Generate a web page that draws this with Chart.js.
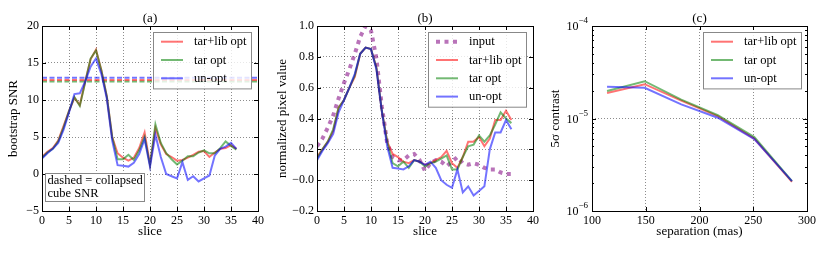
<!DOCTYPE html>
<html>
<head>
<meta charset="utf-8">
<script src="https://cdn.jsdelivr.net/npm/chart.js@4.4.0/dist/chart.umd.min.js"></script>
<style>
  html, body { margin: 0; padding: 0; background: #fff; }
  #wrap { position: relative; width: 830px; height: 254px; overflow: hidden; }
  .panel { position: absolute; top: 0; height: 254px; }
</style>
</head>
<body>
<div id="wrap">
  <div class="panel" style="left:0;width:275px"><canvas id="snrCanvas" width="275" height="254"></canvas></div>
  <div class="panel" style="left:275px;width:275px"><canvas id="pixelCanvas" width="275" height="254"></canvas></div>
  <div class="panel" style="left:550px;width:280px"><canvas id="contrastCanvas" width="280" height="254"></canvas></div>
</div>
<script>
/* ---- data ---- */
const slices = [0,1,2,3,4,5,6,7,8,9,10,11,12,13,14,15,16,17,18,19,20,21,22,23,24,25,26,27,28,29,30,31,32,33,34,35,36];

// (a) bootstrap SNR
const snrTarLib = [2.3,3.0,3.5,4.5,6.5,8.5,10.3,9.3,12.5,15.5,16.8,14.0,10.5,5.0,2.8,2.2,1.8,2.2,3.5,5.6,1.3,6.2,4.0,2.7,2.3,1.8,1.9,2.2,2.6,3.0,3.1,2.3,2.9,3.4,3.5,3.9,3.4];
const snrTar    = [2.2,2.9,3.4,4.4,6.3,8.5,10.4,9.2,12.4,15.6,16.7,14.0,10.5,5.0,2.0,2.0,2.6,1.9,3.2,5.0,1.2,6.7,4.2,2.8,2.0,1.3,1.8,2.4,2.4,2.9,3.2,2.8,2.8,3.5,4.4,3.8,3.3];
const snrUnopt  = [2.1,2.8,3.4,4.2,6.0,8.3,10.8,10.9,12.5,14.5,15.6,13.5,10.2,4.5,1.2,1.1,1.0,1.5,2.7,4.7,1.0,5.3,2.3,0.0,-0.3,-0.6,1.6,-0.8,-0.3,-1.0,-0.6,-0.2,2.5,3.4,3.7,4.2,3.4];
const cubeSnr   = [12.7, 12.5, 13.0];   // tar+lib opt, tar opt, un-opt
const cubeSpan  = [0, 40];

// (b) normalized pixel value
const pixInput  = [0.22,0.27,0.34,0.42,0.53,0.63,0.72,0.82,0.93,1.00,0.97,0.79,0.48,0.24,0.15,0.13,0.13,0.16,0.17,0.13,0.06,0.11,0.13,0.12,0.09,0.12,0.15,0.11,0.10,0.11,0.10,0.08,0.07,0.07,0.05,0.04,0.04];
const pixTarLib = [0.15,0.20,0.25,0.32,0.47,0.52,0.60,0.67,0.82,0.86,0.85,0.73,0.45,0.25,0.17,0.15,0.12,0.11,0.13,0.12,0.10,0.11,0.13,0.15,0.19,0.11,0.08,0.15,0.25,0.25,0.28,0.22,0.27,0.39,0.39,0.45,0.39];
const pixTar    = [0.14,0.20,0.25,0.33,0.47,0.52,0.60,0.68,0.82,0.86,0.85,0.73,0.45,0.25,0.11,0.09,0.12,0.08,0.13,0.12,0.09,0.11,0.12,0.14,0.16,0.07,0.07,0.15,0.22,0.23,0.29,0.25,0.29,0.36,0.44,0.40,0.37];
const pixUnopt  = [0.13,0.19,0.24,0.30,0.44,0.52,0.60,0.69,0.82,0.86,0.85,0.72,0.45,0.22,0.08,0.075,0.07,0.09,0.13,0.12,0.10,0.12,0.08,0.00,-0.03,-0.05,0.07,-0.08,-0.04,-0.10,-0.07,-0.04,0.20,0.31,0.31,0.39,0.33];

// (c) 5 sigma contrast
const sepMas      = [114, 149, 183, 217, 251, 286];
const conTarLib   = [1.89e-5, 2.35e-5, 1.56e-5, 1.06e-5, 6.07e-6, 2.06e-6];
const conTar      = [1.98e-5, 2.53e-5, 1.60e-5, 1.085e-5, 6.3e-6, 2.1e-6];
const conUnopt    = [2.2e-5, 2.15e-5, 1.42e-5, 1.02e-5, 6.0e-6, 2.1e-6];

// tick labels
const snrXTicks = [0, 40, 5];
const snrYTicks = [-5, 20, 5];
const pixYTicks = [-0.2, 1.0, 0.2];
const sepXTicks = [100, 300, 50];
const conDecades = [-6, -5, -4];

(function () {
  'use strict';

  const SERIF = '"Liberation Serif", "Times New Roman", serif';
  const RED = 'rgba(255,0,0,0.55)';
  const GREEN = 'rgba(0,128,0,0.55)';
  const BLUE = 'rgba(0,0,255,0.55)';
  const PURPLE = 'rgba(128,0,128,0.55)';
  const GRID = 'rgba(0,0,0,0.45)';

  const pts = (xs, ys) => xs.map((x, i) => ({ x: x, y: ys[i] }));
  const minus = s => String(s).replace('-', '\u2212');
  const isPow10 = v => v > 0 && Math.abs(Math.log10(v) - Math.round(Math.log10(v))) < 1e-6;

  function line(label, data, color, order, extra) {
    return Object.assign({
      label: label, data: data, borderColor: color, backgroundColor: color,
      borderWidth: 2, pointRadius: 0, tension: 0, fill: false, order: order
    }, extra || {});
  }

  function linAxis(t, fmt, isX) {
    return {
      type: 'linear', min: t[0], max: t[1],
      ticks: {
        stepSize: t[2], autoSkip: false, maxRotation: 0, padding: isX ? 3 : 3,
        color: '#000', font: { family: SERIF, size: 12 }, callback: v => minus(fmt(v))
      },
      grid: { color: GRID, lineWidth: 1, drawTicks: false },
      border: { display: false, dash: [1, 2] },
      afterFit: s => { if (isX) s.height = 43; else s.width = 42; }
    };
  }

  // frame, inward ticks, titles, legend and notes
  const deco = {
    id: 'deco',
    afterDraw(chart, args, o) {
      const ctx = chart.ctx, a = chart.chartArea;
      const xs = chart.scales.x, ys = chart.scales.y;
      ctx.save();
      ctx.strokeStyle = '#000';
      ctx.lineWidth = 1;
      ctx.beginPath();
      xs.ticks.forEach(t => {
        const p = Math.round(xs.getPixelForValue(t.value)) + 0.5;
        ctx.moveTo(p, a.bottom); ctx.lineTo(p, a.bottom - 4);
        ctx.moveTo(p, a.top); ctx.lineTo(p, a.top + 4);
      });
      const yTick = (v, len) => {
        const p = Math.round(ys.getPixelForValue(v)) + 0.5;
        ctx.moveTo(a.left, p); ctx.lineTo(a.left + len, p);
        ctx.moveTo(a.right, p); ctx.lineTo(a.right - len, p);
      };
      if (o.log) {
        conDecades.forEach((e, i) => {
          yTick(Math.pow(10, e), 4);
          if (i < conDecades.length - 1) {
            for (let m = 2; m < 10; m++) yTick(m * Math.pow(10, e), 2);
          }
        });
      } else {
        ys.ticks.forEach(t => yTick(t.value, 4));
      }
      ctx.stroke();
      ctx.strokeRect(Math.round(a.left) + 0.5, Math.round(a.top) + 0.5,
        Math.round(a.right - a.left), Math.round(a.bottom - a.top));

      ctx.fillStyle = '#000';
      ctx.textBaseline = 'middle';

      // log tick labels with superscripts
      if (o.log) {
        conDecades.forEach(e => {
          const y = ys.getPixelForValue(Math.pow(10, e));
          const right = a.left - 4;
          ctx.textAlign = 'right';
          ctx.font = '9px ' + SERIF;
          const sup = minus(e);
          const ws = ctx.measureText(sup).width;
          ctx.fillText(sup, right, y - 5);
          ctx.font = '12px ' + SERIF;
          ctx.fillText('10', right - ws, y + 1);
        });
      }

      const cx = (a.left + a.right) / 2, cy = (a.top + a.bottom) / 2;
      ctx.textAlign = 'center';
      ctx.font = '13px ' + SERIF;
      ctx.fillText(o.title, cx, 19);
      ctx.fillText(o.xlabel, cx, 232);
      ctx.save();
      ctx.translate(o.ylabelX, cy);
      ctx.rotate(-Math.PI / 2);
      ctx.fillText(o.ylabel, 0, 0);
      ctx.restore();

      // legend
      const rows = o.legend;
      const bx = 153, by = 32, bw = 98, bh = 18.3 * rows.length + 1.5;
      ctx.fillStyle = 'rgba(255,255,255,0.8)';
      ctx.fillRect(bx, by, bw, bh);
      ctx.strokeStyle = '#888';
      ctx.strokeRect(bx + 0.5, by + 0.5, bw, bh);
      ctx.textAlign = 'left';
      ctx.font = '12.5px ' + SERIF;
      rows.forEach((r, i) => {
        const y = 41.7 + i * 18.3;
        ctx.save();
        ctx.strokeStyle = r.color;
        ctx.lineWidth = r.width || 2;
        ctx.setLineDash(r.dash || []);
        ctx.beginPath();
        ctx.moveTo(161, y); ctx.lineTo(183, y);
        ctx.stroke();
        ctx.restore();
        ctx.fillStyle = '#000';
        ctx.fillText(r.label, 194, y + 0.5);
      });

      // note box
      if (o.note) {
        ctx.fillStyle = '#fff';
        ctx.fillRect(45, 173, 99, 28);
        ctx.strokeStyle = '#888';
        ctx.strokeRect(45.5, 173.5, 99, 28);
        ctx.fillStyle = '#000';
        ctx.font = '12.5px ' + SERIF;
        o.note.forEach((s, i) => ctx.fillText(s, 47.5, 181 + i * 13));
      }
      ctx.restore();
    }
  };

  const baseOpts = (scales, deco) => ({
    responsive: false,
    animation: false,
    events: [],
    layout: { padding: deco.pad },
    plugins: { legend: { display: false }, tooltip: { enabled: false }, deco: deco },
    scales: scales
  });

  const legend3 = [
    { label: 'tar+lib opt', color: RED },
    { label: 'tar opt', color: GREEN },
    { label: 'un-opt', color: BLUE }
  ];

  // (a) Bootstrap SNR
  const dashOpt = { borderDash: [5, 2.5] };
  new Chart(document.getElementById('snrCanvas'), {
    type: 'line',
    data: {
      datasets: [
        line('tar+lib opt', pts(slices, snrTarLib), RED, 3),
        line('tar opt', pts(slices, snrTar), GREEN, 2),
        line('un-opt', pts(slices, snrUnopt), BLUE, 1),
        line('cube tar+lib', pts(cubeSpan, [cubeSnr[0], cubeSnr[0]]), RED, 5, dashOpt),
        line('cube tar', pts(cubeSpan, [cubeSnr[1], cubeSnr[1]]), GREEN, 6, dashOpt),
        line('cube un-opt', pts(cubeSpan, [cubeSnr[2], cubeSnr[2]]), BLUE, 4, dashOpt)
      ]
    },
    options: baseOpts({
      x: linAxis(snrXTicks, v => v, true),
      y: linAxis(snrYTicks, v => v, false)
    }, {
      pad: { top: 26, right: 17, left: 0, bottom: 0 },
      title: '(a)', xlabel: 'slice', ylabel: 'bootstrap SNR', ylabelX: 14,
      legend: legend3,
      note: ['dashed = collapsed', 'cube SNR']
    }),
    plugins: [deco]
  });

  // (b) Normalized pixel value
  new Chart(document.getElementById('pixelCanvas'), {
    type: 'line',
    data: {
      datasets: [
        line('input', pts(slices, pixInput), PURPLE, 5, { borderWidth: 4, borderDash: [4, 4.5], borderCapStyle: 'butt' }),
        line('tar+lib opt', pts(slices, pixTarLib), RED, 3),
        line('tar opt', pts(slices, pixTar), GREEN, 2),
        line('un-opt', pts(slices, pixUnopt), BLUE, 1)
      ]
    },
    options: baseOpts({
      x: linAxis(snrXTicks, v => v, true),
      y: linAxis(pixYTicks, v => v.toFixed(1), false)
    }, {
      pad: { top: 26, right: 17, left: 0, bottom: 0 },
      title: '(b)', xlabel: 'slice', ylabel: 'normalized pixel value', ylabelX: 8,
      legend: [{ label: 'input', color: PURPLE, width: 4, dash: [4, 4.5] }].concat(legend3)
    }),
    plugins: [deco]
  });

  // (c) 5 sigma contrast
  const logY = {
    type: 'logarithmic', min: 1e-6, max: 1e-4,
    ticks: { autoSkip: false, callback: () => '', font: { family: SERIF, size: 12 } },
    grid: { color: c => (c.tick && isPow10(c.tick.value)) ? GRID : 'rgba(0,0,0,0)', lineWidth: 1, drawTicks: false },
    border: { display: false, dash: [1, 2] },
    afterFit: s => { s.width = 42; }
  };
  new Chart(document.getElementById('contrastCanvas'), {
    type: 'line',
    data: {
      datasets: [
        line('tar+lib opt', pts(sepMas, conTarLib), RED, 3),
        line('tar opt', pts(sepMas, conTar), GREEN, 2),
        line('un-opt', pts(sepMas, conUnopt), BLUE, 1)
      ]
    },
    options: baseOpts({
      x: linAxis(sepXTicks, v => v, true),
      y: logY
    }, {
      pad: { top: 26, right: 23, left: 0, bottom: 0 },
      title: '(c)', xlabel: 'separation (mas)', ylabel: '5\u03C3 contrast', ylabelX: 6, log: true,
      legend: legend3
    }),
    plugins: [deco]
  });
})();
</script>
</body>
</html>
